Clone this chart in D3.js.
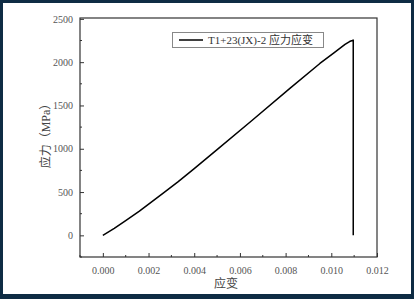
<!DOCTYPE html>
<html>
<head>
<meta charset="utf-8">
<script src="https://cdn.jsdelivr.net/npm/d3@7"></script>
<style>
  body { margin: 0; padding: 0; background: #fff; }
  svg { display: block; }
  .tick text { font-family: "Liberation Serif", "DejaVu Serif", serif; font-size: 10px; fill: #555; }
</style>
</head>
<body>
<svg id="chart" width="414" height="299"></svg>
<script>
// strain / stress
var strain = [0, 0.0005, 0.001, 0.0016, 0.0027, 0.0033, 0.004, 0.005, 0.0065, 0.0082, 0.0095, 0.0101, 0.0106, 0.0108, 0.01092, 0.01096, 0.01096];
var stress = [0, 80, 170, 280, 500, 620, 770, 990, 1320, 1700, 1985, 2105, 2205, 2238, 2250, 2255, 0];
var xTicks = [0, 0.002, 0.004, 0.006, 0.008, 0.010, 0.012];
var yTicks = [0, 500, 1000, 1500, 2000, 2500];
var legendLabel = "T1+23(JX)-2 应力应变";

var W = 414, H = 299,
	pLeft = 80, pRight = 377, pTop = 18, pBottom = 257;

var svg = d3.select("#chart");

// dark frame around the picture
svg.append("rect").attr("width", W).attr("height", H).attr("fill", "#0e2c44");
svg.append("rect").attr("x", 3).attr("y", 3).attr("width", W - 6).attr("height", H - 8).attr("fill", "#fff");

var x = d3.scaleLinear().domain([-0.001, 0.012]).range([pLeft, pRight]),
	y = d3.scaleLinear().domain([-250, 2510]).range([pBottom, pTop]);

// minor ticks
var xMinor = d3.range(-0.001, 0.0125, 0.001).filter(function(d) { return Math.round(d * 1000) % 2 != 0; });
var yMinor = d3.range(-250, 2500, 250).filter(function(d) { return d % 500 != 0; });

svg.append("g").selectAll("line").data(xMinor).enter().append("line")
	.attr("x1", function(d) { return x(d); }).attr("x2", function(d) { return x(d); })
	.attr("y1", pBottom).attr("y2", pBottom - 2)
	.attr("stroke", "#333");
svg.append("g").selectAll("line").data(yMinor).enter().append("line")
	.attr("y1", function(d) { return y(d); }).attr("y2", function(d) { return y(d); })
	.attr("x1", pLeft).attr("x2", pLeft + 2)
	.attr("stroke", "#333");

var xAxis = svg.append("g")
	.attr("transform", "translate(0," + pBottom + ")")
	.call(d3.axisBottom(x).tickValues(xTicks).tickSizeInner(-4).tickSizeOuter(0).tickPadding(10).tickFormat(d3.format(".3f")));
var yAxis = svg.append("g")
	.attr("transform", "translate(" + pLeft + ",0)")
	.call(d3.axisLeft(y).tickValues(yTicks).tickSizeInner(-4).tickSizeOuter(0).tickPadding(7).tickFormat(d3.format("d")));

xAxis.select(".domain").remove();
yAxis.select(".domain").remove();
xAxis.selectAll(".tick line").attr("stroke", "#333");
yAxis.selectAll(".tick line").attr("stroke", "#333");

// plot frame
svg.append("rect")
	.attr("x", pLeft).attr("y", pTop)
	.attr("width", pRight - pLeft).attr("height", pBottom - pTop)
	.attr("fill", "none").attr("stroke", "#333").attr("stroke-width", 1.2);

// curve
var pts = strain.map(function(s, i) { return [s, stress[i]]; });
var line = d3.line().x(function(d) { return x(d[0]); }).y(function(d) { return y(d[1]); });
svg.append("path").datum(pts)
	.attr("d", line)
	.attr("fill", "none").attr("stroke", "#000").attr("stroke-width", 1.5)
	.attr("stroke-linejoin", "round");

// legend
var lg = svg.append("g");
lg.append("rect").attr("x", 172.5).attr("y", 32.5).attr("width", 151).attr("height", 15)
	.attr("fill", "#fff").attr("stroke", "#888").attr("stroke-width", 1);
lg.append("line").attr("x1", 179).attr("x2", 203).attr("y1", 40).attr("y2", 40)
	.attr("stroke", "#000").attr("stroke-width", 1.5);
lg.append("text").attr("x", 208).attr("y", 44)
	.attr("font-family", "'Liberation Serif', 'Noto Sans CJK SC', serif").attr("font-size", 11)
	.attr("fill", "#333").text(legendLabel);

// axis titles
svg.append("text").attr("x", 226).attr("y", 288)
	.attr("text-anchor", "middle")
	.attr("font-family", "'Noto Sans CJK SC', serif").attr("font-size", 12)
	.attr("fill", "#444").text("应变");
svg.append("text").attr("transform", "translate(50,133) rotate(-90)")
	.attr("text-anchor", "middle")
	.attr("font-family", "'Liberation Serif', 'Noto Sans CJK SC', serif").attr("font-size", 12)
	.attr("fill", "#444").text("应力（MPa）");
</script>
</body>
</html>
